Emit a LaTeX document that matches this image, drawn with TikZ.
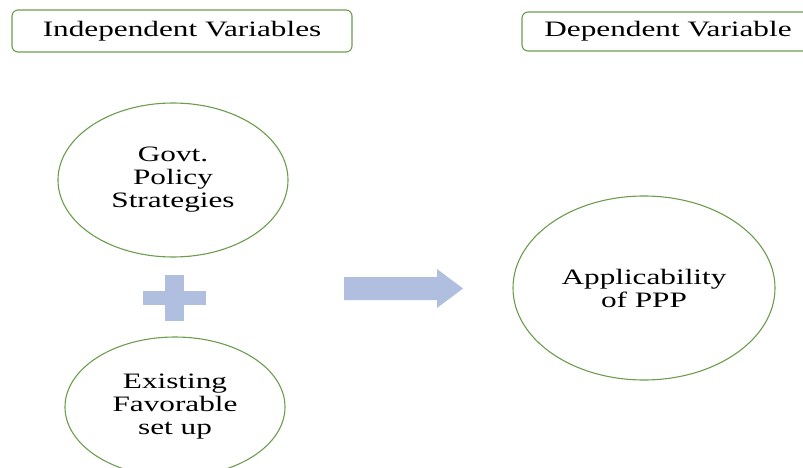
\documentclass[tikz,border=0pt]{standalone}
\usepackage{fontspec}
\setmainfont[FakeStretch=1.42]{Liberation Serif}
\usetikzlibrary{shapes.geometric}

\definecolor{framegreen}{RGB}{108,156,78}
\definecolor{plusblue}{RGB}{176,190,223}

\begin{document}
\begin{tikzpicture}[x=1pt,y=-1pt]
	\tikzstyle{header} = [draw=framegreen, line width=1.1pt, rounded corners=6pt, font=\fontsize{22}{23}\selectfont, inner sep=0pt]
	\tikzstyle{var} = [draw=framegreen, line width=1.1pt, ellipse, align=center, font=\fontsize{22}{23}\selectfont, inner sep=0pt]
	
	\useasboundingbox (0,0) rectangle (803,468);
	\clip (0,0) rectangle (803,468);
	
	\node [header, minimum width=340pt, minimum height=42pt] (indep) at (182,31) {Independent Variables};
	\node [header, minimum width=292pt, minimum height=39pt] (dep) at (668,31.5) {Dependent Variable};
	
	\node [var, minimum width=230pt, minimum height=154pt] (govt) at (173,180) {Govt.\\Policy\\Strategies};
	\node [var, minimum width=220pt, minimum height=140pt] (exist) at (175,407) {Existing\\Favorable\\set up};
	\node [var, minimum width=262pt, minimum height=184pt] (ppp) at (644,288) {Applicability\\of PPP};
	
	% plus sign between the two variables
	\fill [plusblue] (143,291) rectangle (206,305);
	\fill [plusblue] (165,275) rectangle (184,321);
	
	% block arrow
	\fill [plusblue] (344,277) -- (437,277) -- (437,269) -- (463,288.5) -- (437,308) -- (437,300) -- (344,300) -- cycle;
	
\end{tikzpicture}
\end{document}
